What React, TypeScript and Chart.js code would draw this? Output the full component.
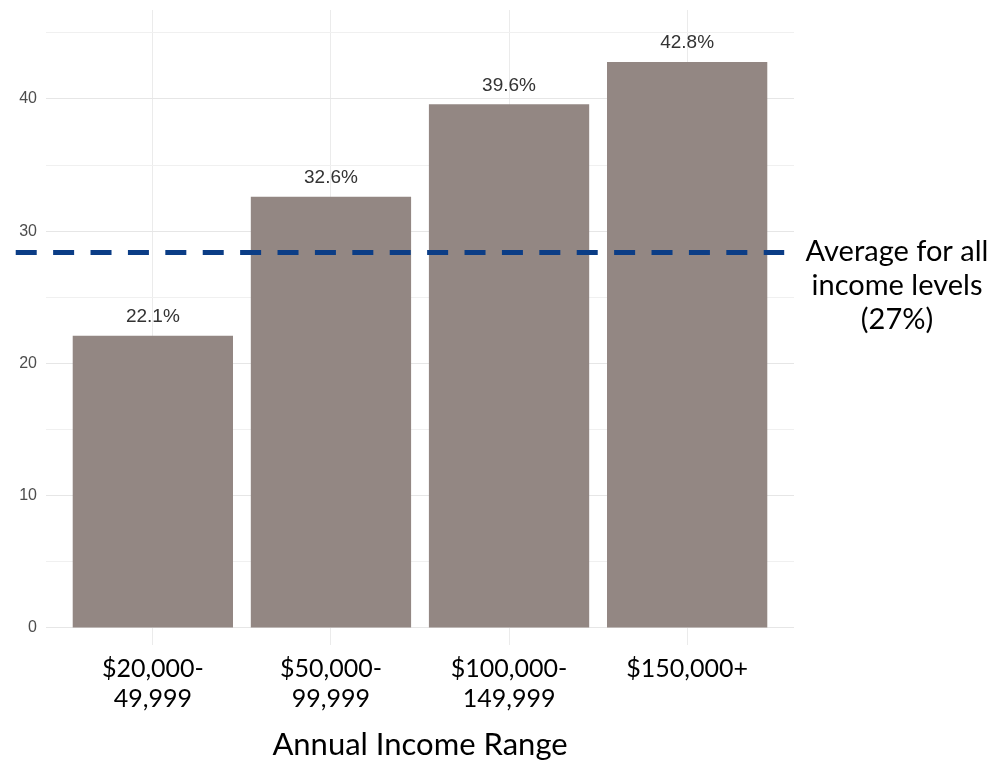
import React, { useEffect, useRef } from "react";
import { Chart, registerables } from "chart.js";

Chart.register(...registerables);

const categories: string[][] = [
  ["$20,000-", "49,999"],
  ["$50,000-", "99,999"],
  ["$100,000-", "149,999"],
  ["$150,000+"],
];
const values: number[] = [22.1, 32.6, 39.6, 42.8];
const yTicks: number[] = [0, 5, 10, 15, 20, 25, 30, 35, 40, 45];
const averageLineValue = 28.4;
const averageLabelLines: string[] = ["Average for all", "income levels", "(27%)"];
const xTitle = "Annual Income Range";

const BAR_COLOR = "#938783";
const LINE_COLOR = "#0b3d86";
const LABEL_FONT = "Lato";

export default function App() {
  const ref = useRef<HTMLCanvasElement | null>(null);

  useEffect(() => {
    if (!ref.current) return;

    const overlay = {
      id: "overlay",
      afterDatasetsDraw(chart: any) {
        const ctx = chart.ctx;
        const xs = chart.scales.x;
        const ys = chart.scales.y;
        // value labels
        ctx.save();
        ctx.font = "19px 'Liberation Sans', Arial, sans-serif";
        ctx.fillStyle = "#333333";
        ctx.textAlign = "center";
        ctx.textBaseline = "middle";
        values.forEach((v, i) => {
          ctx.fillText(v.toFixed(1) + "%", xs.getPixelForValue(i), ys.getPixelForValue(v) - 19);
        });
        ctx.restore();
        // dashed average line
        const y = ys.getPixelForValue(averageLineValue);
        ctx.save();
        ctx.beginPath();
        ctx.setLineDash([21, 16.4]);
        ctx.lineWidth = 5;
        ctx.strokeStyle = LINE_COLOR;
        ctx.moveTo(xs.getPixelForValue(-0.77), y);
        ctx.lineTo(xs.getPixelForValue(3.545), y);
        ctx.stroke();
        ctx.restore();
        // average label
        ctx.save();
        ctx.font = `29px ${LABEL_FONT}, sans-serif`;
        ctx.fillStyle = "#000000";
        ctx.textAlign = "center";
        ctx.textBaseline = "middle";
        const cx = xs.right + 103;
        averageLabelLines.forEach((t, i) => {
          ctx.fillText(t, cx, y - 1 + i * 34);
        });
        ctx.restore();
      },
    };

    const chart = new Chart(ref.current, {
      type: "bar",
      data: {
        datasets: [
          {
            data: values.map((v, i) => ({ x: i, y: v })),
            backgroundColor: BAR_COLOR,
            borderWidth: 0,
            categoryPercentage: 1,
            barPercentage: 0.9,
          } as any,
        ],
      },
      options: {
        animation: false,
        responsive: false,
        maintainAspectRatio: false,
        layout: { padding: { left: 0, right: 202, top: 10, bottom: 0 } },
        plugins: { legend: { display: false }, tooltip: { enabled: false } },
        scales: {
          x: {
            type: "linear",
            offset: false,
            min: -0.6,
            max: 3.6,
            afterBuildTicks: (s: any) => {
              s.ticks = categories.map((_, i) => ({ value: i }));
            },
            afterFit: (s: any) => {
              s.height = 119;
              s.paddingLeft = 0;
              s.paddingRight = 0;
            },
            grid: { color: "#ebebeb", lineWidth: 1, drawTicks: false, offset: false },
            border: { display: false },
            ticks: {
              padding: 9,
              color: "#000000",
              font: { family: LABEL_FONT, size: 25, lineHeight: 1.2 },
              callback: (v: any) => categories[v as number] ?? "",
              maxRotation: 0,
              autoSkip: false,
            },
            title: {
              display: true,
              text: xTitle,
              color: "#000000",
              font: { family: LABEL_FONT, size: 31, lineHeight: 1.2 },
              padding: { top: 0, bottom: 0 },
            },
          },
          y: {
            type: "linear",
            min: -1.29,
            max: 46.73,
            afterBuildTicks: (s: any) => {
              s.ticks = yTicks.map((v) => ({ value: v }));
            },
            afterFit: (s: any) => {
              s.width = 46;
              s.paddingTop = 0;
              s.paddingBottom = 0;
            },
            grid: {
              drawTicks: false,
              color: (c: any) => (c.tick && c.tick.value % 10 === 0 ? "#e6e6e6" : "#f0f0f0"),
              lineWidth: 1,
            },
            border: { display: false },
            ticks: {
              padding: 9,
              color: "#4d4d4d",
              font: { family: "'Liberation Sans', Arial, sans-serif", size: 16 },
              callback: (v: any) => ((v as number) % 10 === 0 ? String(v) : ""),
            },
          },
        },
      },
      plugins: [overlay],
    });
    return () => chart.destroy();
  }, []);

  return (
    <div style={{ position: "fixed", left: 0, top: 0, width: 996, height: 764, background: "#ffffff" }}>
      <canvas ref={ref} width={996} height={764} style={{ width: 996, height: 764, display: "block" }} />
    </div>
  );
}
